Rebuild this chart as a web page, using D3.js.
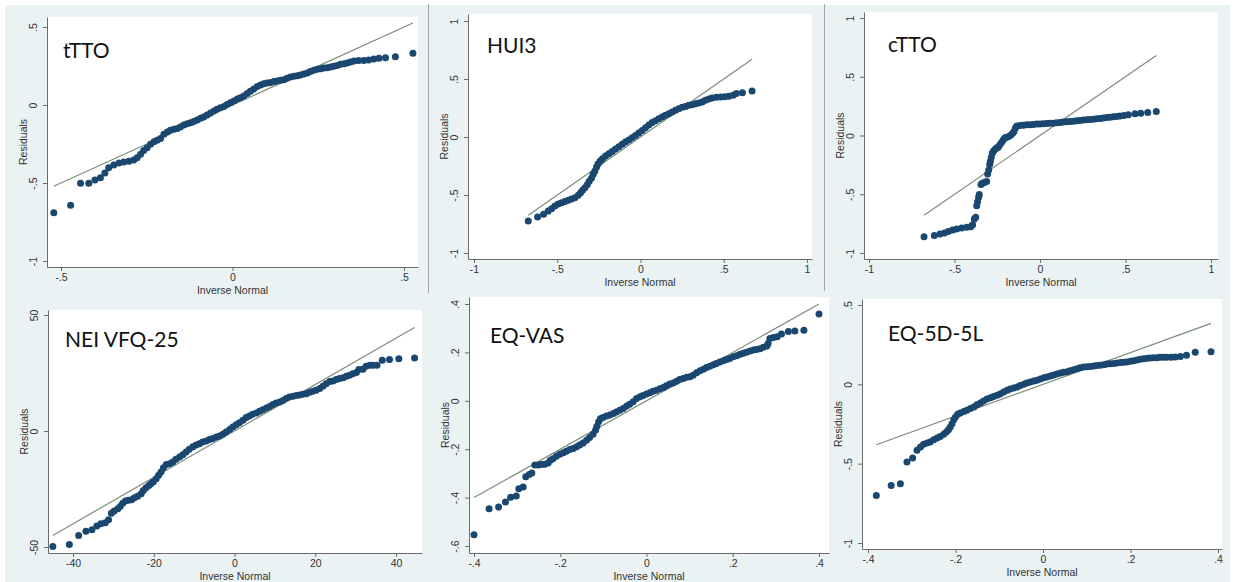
<!DOCTYPE html>
<html>
<head>
<meta charset="utf-8">
<script src="https://cdn.jsdelivr.net/npm/d3@7"></script>
<style>
body { margin: 0; background: #fff; }
</style>
</head>
<body>
<script>
// Q-Q points per instrument: [inverse normal, residual]
var tttoPoints = [[-0.521,-0.690],[-0.472,-0.643],[-0.443,-0.502],[-0.419,-0.502],[-0.401,-0.481],[-0.385,-0.466],
    [-0.372,-0.436],[-0.361,-0.402],[-0.346,-0.385],[-0.331,-0.372],[-0.317,-0.365],[-0.302,-0.361],[-0.288,-0.353],[-0.278,-0.338],
    [-0.268,-0.316],[-0.259,-0.291],[-0.249,-0.274],[-0.239,-0.252],[-0.229,-0.235],[-0.220,-0.226],[-0.210,-0.214],[-0.200,-0.188],
    [-0.190,-0.173],[-0.181,-0.162],[-0.171,-0.156],[-0.161,-0.150],[-0.152,-0.141],[-0.142,-0.128],[-0.132,-0.120],[-0.122,-0.113],
    [-0.113,-0.105],[-0.103,-0.096],[-0.093,-0.085],[-0.084,-0.077],[-0.074,-0.064],[-0.064,-0.051],[-0.054,-0.038],[-0.045,-0.028],
    [-0.035,-0.017],[-0.025,-0.009],[-0.016,0.004],[-0.006,0.015],[0.004,0.026],[0.014,0.038],[0.023,0.047],[0.033,0.058],
    [0.043,0.073],[0.052,0.088],[0.062,0.103],[0.072,0.118],[0.082,0.128],[0.091,0.137],[0.101,0.141],[0.111,0.145],
    [0.121,0.150],[0.130,0.154],[0.140,0.158],[0.150,0.162],[0.159,0.171],[0.169,0.179],[0.179,0.184],[0.189,0.188],
    [0.198,0.192],[0.208,0.199],[0.218,0.205],[0.227,0.214],[0.237,0.222],[0.247,0.229],[0.257,0.233],[0.266,0.237],
    [0.276,0.239],[0.286,0.244],[0.295,0.248],[0.305,0.254],[0.315,0.261],[0.325,0.265],[0.334,0.269],[0.344,0.276],
    [0.354,0.282],[0.368,0.286],[0.383,0.286],[0.397,0.288],[0.412,0.295],[0.427,0.299],[0.446,0.303],[0.475,0.310],[0.526,0.331]];

var hui3Points = [[-0.674,-0.724],[-0.618,-0.690],[-0.582,-0.667],[-0.554,-0.638],[-0.534,-0.618],[-0.514,-0.595],[-0.494,-0.578],
    [-0.474,-0.566],[-0.454,-0.555],[-0.434,-0.546],[-0.414,-0.534],[-0.394,-0.523],[-0.374,-0.503],[-0.360,-0.480],[-0.348,-0.460],
    [-0.334,-0.437],[-0.320,-0.411],[-0.308,-0.382],[-0.294,-0.353],[-0.284,-0.322],[-0.274,-0.293],[-0.264,-0.259],[-0.254,-0.230],
    [-0.242,-0.207],[-0.228,-0.187],[-0.210,-0.164],[-0.190,-0.144],[-0.170,-0.124],[-0.150,-0.103],[-0.130,-0.083],[-0.110,-0.063],
    [-0.090,-0.043],[-0.070,-0.026],[-0.050,-0.006],[-0.030,0.014],[-0.010,0.034],[0.010,0.055],[0.030,0.080],[0.050,0.103],
    [0.070,0.124],[0.090,0.141],[0.110,0.158],[0.130,0.172],[0.150,0.187],[0.170,0.201],[0.190,0.216],[0.210,0.230],
    [0.230,0.244],[0.250,0.256],[0.270,0.264],[0.290,0.273],[0.310,0.279],[0.330,0.287],[0.350,0.293],[0.370,0.302],
    [0.390,0.316],[0.410,0.328],[0.430,0.336],[0.456,0.342],[0.482,0.345],[0.506,0.348],[0.530,0.351],[0.556,0.359],
    [0.576,0.374],[0.612,0.382],[0.670,0.397]];

var cttoPoints = [[-0.678,-0.861],[-0.618,-0.852],[-0.585,-0.838],[-0.559,-0.830],[-0.536,-0.818],[-0.511,-0.804],[-0.487,-0.795],
    [-0.458,-0.787],[-0.429,-0.781],[-0.405,-0.776],[-0.394,-0.759],[-0.384,-0.710],[-0.376,-0.696],[-0.370,-0.597],[-0.365,-0.563],
    [-0.359,-0.526],[-0.355,-0.503],[-0.345,-0.418],[-0.337,-0.406],[-0.326,-0.401],[-0.312,-0.392],[-0.306,-0.327],[-0.300,-0.293],
    [-0.294,-0.247],[-0.290,-0.219],[-0.285,-0.185],[-0.279,-0.151],[-0.273,-0.134],[-0.263,-0.119],[-0.253,-0.105],[-0.244,-0.099],
    [-0.234,-0.077],[-0.224,-0.057],[-0.214,-0.037],[-0.205,-0.020],[-0.195,-0.014],[-0.183,-0.009],[-0.172,0.003],[-0.160,0.020],
    [-0.152,0.034],[-0.144,0.063],[-0.136,0.080],[-0.117,0.085],[-0.097,0.088],[-0.078,0.091],[-0.058,0.091],[-0.039,0.094],
    [-0.019,0.097],[0.000,0.097],[0.019,0.099],[0.039,0.102],[0.058,0.105],[0.078,0.105],[0.097,0.108],[0.117,0.111],
    [0.136,0.114],[0.156,0.116],[0.175,0.119],[0.195,0.122],[0.214,0.125],[0.234,0.128],[0.253,0.131],[0.273,0.134],
    [0.292,0.136],[0.312,0.139],[0.331,0.142],[0.351,0.145],[0.370,0.148],[0.390,0.153],[0.409,0.156],[0.429,0.159],
    [0.448,0.162],[0.468,0.165],[0.491,0.170],[0.517,0.176],[0.556,0.185],[0.589,0.190],[0.630,0.196],[0.680,0.205]];

var neiPoints = [[-45.0,-49.8],[-40.9,-48.9],[-38.6,-45.0],[-36.8,-43.2],[-35.3,-42.6],[-34.1,-41.0],[-33.1,-40.0],[-32.0,-39.6],
    [-31.2,-38.3],[-30.5,-35.4],[-29.8,-34.5],[-28.9,-33.5],[-28.3,-32.5],[-27.7,-31.1],[-27.0,-30.2],[-26.3,-29.9],[-25.5,-29.6],
    [-24.8,-28.8],[-24.0,-28.1],[-23.1,-27.1],[-22.6,-25.6],[-21.9,-24.5],[-21.2,-23.5],[-20.7,-22.7],[-20.1,-21.9],[-19.4,-20.6],
    [-18.8,-19.1],[-18.2,-17.7],[-17.6,-15.8],[-16.9,-14.4],[-16.1,-14.1],[-15.3,-13.4],[-14.5,-12.2],[-13.6,-11.2],[-12.8,-10.2],
    [-12.0,-9.1],[-11.2,-7.9],[-10.3,-6.8],[-9.5,-6.0],[-8.7,-5.5],[-7.9,-4.7],[-7.0,-4.3],[-6.2,-3.7],[-5.4,-3.2],[-4.5,-2.6],
    [-3.7,-2.2],[-2.9,-1.4],[-2.1,-0.4],[-1.2,0.7],[-0.4,1.7],[0.4,2.7],[1.2,3.6],[2.1,4.6],[2.9,5.8],[3.7,6.5],[4.5,7.2],
    [5.4,7.8],[6.2,8.5],[7.0,9.2],[7.9,9.9],[8.7,10.6],[9.5,11.4],[10.3,12.1],[11.2,12.5],[12.0,13.2],[12.8,14.0],[13.6,14.7],
    [14.5,15.0],[15.3,15.3],[16.1,15.5],[16.9,15.8],[17.8,16.1],[18.6,16.7],[19.4,17.1],[20.2,17.6],[21.1,18.3],[21.9,19.3],
    [22.7,20.4],[23.6,21.3],[24.4,21.6],[25.2,22.2],[26.0,22.6],[26.9,23.0],[27.7,23.6],[28.5,24.0],[29.3,24.7],[30.2,25.2],
    [30.8,26.5],[31.8,26.6],[32.6,27.9],[33.5,28.3],[34.3,28.3],[35.3,28.3],[36.6,30.5],[38.4,30.8],[40.7,31.1],[44.6,31.5]];

var eqvasPoints = [[-0.400,-0.553],[-0.365,-0.446],[-0.343,-0.439],[-0.327,-0.418],[-0.315,-0.399],[-0.302,-0.393],[-0.296,-0.363],
    [-0.286,-0.356],[-0.280,-0.314],[-0.272,-0.305],[-0.266,-0.298],[-0.259,-0.265],[-0.251,-0.265],[-0.244,-0.263],[-0.236,-0.262],
    [-0.228,-0.257],[-0.223,-0.246],[-0.217,-0.239],[-0.209,-0.229],[-0.201,-0.221],[-0.193,-0.215],[-0.186,-0.208],[-0.178,-0.201],
    [-0.170,-0.197],[-0.162,-0.190],[-0.155,-0.183],[-0.147,-0.174],[-0.139,-0.163],[-0.132,-0.152],[-0.124,-0.138],[-0.118,-0.121],
    [-0.115,-0.105],[-0.111,-0.087],[-0.107,-0.074],[-0.101,-0.069],[-0.093,-0.063],[-0.085,-0.059],[-0.077,-0.052],[-0.070,-0.046],
    [-0.062,-0.039],[-0.054,-0.032],[-0.046,-0.022],[-0.039,-0.014],[-0.031,-0.004],[-0.023,0.010],[-0.015,0.017],[-0.008,0.022],
    [0.000,0.028],[0.008,0.033],[0.015,0.039],[0.023,0.044],[0.031,0.050],[0.039,0.055],[0.046,0.062],[0.054,0.069],
    [0.062,0.074],[0.070,0.081],[0.077,0.088],[0.085,0.092],[0.093,0.097],[0.101,0.099],[0.108,0.106],[0.116,0.116],
    [0.124,0.124],[0.132,0.130],[0.139,0.138],[0.147,0.143],[0.155,0.149],[0.162,0.154],[0.170,0.160],[0.178,0.166],
    [0.186,0.171],[0.193,0.175],[0.201,0.182],[0.209,0.186],[0.217,0.192],[0.224,0.196],[0.232,0.201],[0.240,0.206],
    [0.248,0.210],[0.255,0.212],[0.263,0.215],[0.271,0.221],[0.279,0.226],[0.282,0.237],[0.286,0.257],[0.294,0.262],
    [0.303,0.265],[0.313,0.276],[0.329,0.286],[0.344,0.288],[0.365,0.292],[0.400,0.359]];

var eq5dPoints = [[-0.381,-0.700],[-0.347,-0.637],[-0.326,-0.626],[-0.311,-0.489],[-0.298,-0.464],[-0.288,-0.416],[-0.280,-0.395],
    [-0.273,-0.378],[-0.265,-0.370],[-0.258,-0.363],[-0.250,-0.349],[-0.242,-0.338],[-0.235,-0.328],[-0.227,-0.315],[-0.221,-0.300],
    [-0.216,-0.286],[-0.212,-0.269],[-0.208,-0.248],[-0.204,-0.223],[-0.200,-0.206],[-0.195,-0.189],[-0.189,-0.181],[-0.181,-0.172],
    [-0.174,-0.164],[-0.166,-0.153],[-0.158,-0.143],[-0.151,-0.128],[-0.143,-0.118],[-0.136,-0.105],[-0.128,-0.092],[-0.120,-0.084],
    [-0.113,-0.076],[-0.105,-0.069],[-0.098,-0.061],[-0.090,-0.048],[-0.082,-0.038],[-0.075,-0.029],[-0.067,-0.023],[-0.059,-0.017],
    [-0.052,-0.008],[-0.044,0.000],[-0.037,0.008],[-0.029,0.015],[-0.021,0.021],[-0.014,0.025],[-0.006,0.034],[0.002,0.042],
    [0.009,0.046],[0.017,0.053],[0.024,0.059],[0.032,0.065],[0.040,0.071],[0.047,0.076],[0.055,0.080],[0.062,0.086],
    [0.070,0.092],[0.078,0.099],[0.085,0.105],[0.093,0.109],[0.101,0.111],[0.108,0.113],[0.116,0.116],[0.123,0.118],
    [0.131,0.120],[0.139,0.124],[0.146,0.128],[0.154,0.130],[0.162,0.132],[0.169,0.134],[0.177,0.137],[0.184,0.139],
    [0.192,0.141],[0.200,0.145],[0.207,0.149],[0.215,0.153],[0.222,0.158],[0.230,0.162],[0.238,0.164],[0.245,0.166],
    [0.253,0.168],[0.261,0.168],[0.268,0.170],[0.276,0.170],[0.283,0.170],[0.293,0.170],[0.302,0.172],[0.314,0.176],
    [0.328,0.183],[0.348,0.202],[0.384,0.206]];

// tick values
var ticksHalf = [-0.5, 0, 0.5];
var ticksOne = [-1, -0.5, 0, 0.5, 1];
var ticksResid = [-1, -0.5, 0, 0.5];
var ticksForty = [-40, -20, 0, 20, 40];
var ticksFifty = [-50, 0, 50];
var ticksPoint4 = [-0.4, -0.2, 0, 0.2, 0.4];
var ticksVas = [-0.6, -0.4, -0.2, 0, 0.2, 0.4];

var width = 1235;
var height = 582;
var dotColor = "#1a476f";
var lineColor = "#7a8e78";
var axisColor = "#6b6b6b";
var axisFont = "'Liberation Sans', Arial, sans-serif";

var svg = d3.select("body").append("svg")
    .attr("width", width)
    .attr("height", height);

// graph region background
svg.append("rect")
    .attr("x", 5).attr("y", 5)
    .attr("width", 1225).attr("height", 577)
    .attr("fill", "#eaf2f3");

// screenshot separators
svg.append("line").attr("x1", 428.5).attr("x2", 428.5).attr("y1", 4).attr("y2", 293)
    .attr("stroke", "#a3a9ab").attr("stroke-width", 1);
svg.append("line").attr("x1", 824.5).attr("x2", 824.5).attr("y1", 4).attr("y2", 291)
    .attr("stroke", "#a3a9ab").attr("stroke-width", 1);

// layout of each pasted graph (pixels)
var panels = [
    {title: "tTTO", pts: tttoPoints, xt: ticksHalf, yt: ticksResid,
     xd: [-0.5, 0.5], xp: [61, 404], yd: [-1, 0.5], yp: [261, 27],
     left: 47, right: 418, top: 17, bottom: 267, tx: 63, ty: 58},
    {title: "HUI3", pts: hui3Points, xt: ticksOne, yt: ticksOne,
     xd: [-1, 1], xp: [474, 807], yd: [-1, 1], yp: [253, 21],
     left: 468, right: 812, top: 14, bottom: 259, tx: 487, ty: 53},
    {title: "cTTO", pts: cttoPoints, xt: ticksOne, yt: ticksOne,
     xd: [-1, 1], xp: [869, 1211], yd: [-1, 1], yp: [253, 18],
     left: 864, right: 1218, top: 12, bottom: 259, tx: 888, ty: 52},
    {title: "NEI VFQ-25", pts: neiPoints, xt: ticksForty, yt: ticksFifty,
     xd: [-40, 40], xp: [73, 396], yd: [-50, 50], yp: [547, 315],
     left: 48, right: 422, top: 310, bottom: 553, tx: 65, ty: 347},
    {title: "EQ-VAS", pts: eqvasPoints, xt: ticksPoint4, yt: ticksVas,
     xd: [-0.4, 0.4], xp: [474, 819], yd: [-0.6, 0.4], yp: [546, 304],
     left: 469, right: 829, top: 297, bottom: 553, tx: 490, ty: 343},
    {title: "EQ-5D-5L", pts: eq5dPoints, xt: ticksPoint4, yt: ticksResid,
     xd: [-0.4, 0.4], xp: [868, 1218], yd: [-1, 0.5], yp: [543, 305],
     left: 862, right: 1222, top: 299, bottom: 549, tx: 888, ty: 341}
];

function fmt(d) {
    return String(d).replace("0.", ".");
}

panels.forEach(function(p) {
    var g = svg.append("g");

    // scales from tick positions, stretched to the plot region
    var xs = d3.scaleLinear().domain(p.xd).range(p.xp);
    var ys = d3.scaleLinear().domain(p.yd).range(p.yp);
    var x = d3.scaleLinear().domain([xs.invert(p.left), xs.invert(p.right)]).range([p.left, p.right]);
    var y = d3.scaleLinear().domain([ys.invert(p.bottom), ys.invert(p.top)]).range([p.bottom, p.top]);

    g.append("rect")
        .attr("x", p.left).attr("y", p.top)
        .attr("width", p.right - p.left).attr("height", p.bottom - p.top)
        .attr("fill", "white");

    var xAxis = g.append("g")
        .attr("transform", "translate(0," + p.bottom + ")")
        .call(d3.axisBottom(x).tickValues(p.xt).tickSize(4).tickSizeOuter(0).tickPadding(2.5).tickFormat(fmt));

    var yAxis = g.append("g")
        .attr("transform", "translate(" + p.left + ",0)")
        .call(d3.axisLeft(y).tickValues(p.yt).tickSize(4).tickSizeOuter(0).tickFormat(fmt));

    yAxis.selectAll(".tick text")
        .attr("x", 0)
        .attr("y", -10)
        .attr("dy", 0)
        .attr("text-anchor", "middle")
        .attr("transform", "rotate(-90)");

    [xAxis, yAxis].forEach(function(a) {
        a.attr("font-family", axisFont).attr("font-size", "10.5px");
        a.select(".domain").attr("stroke", axisColor);
        a.selectAll(".tick line").attr("stroke", axisColor);
        a.selectAll(".tick text").attr("fill", "#333");
    });

    g.append("text")
        .text("Inverse Normal")
        .attr("x", (p.left + p.right) / 2)
        .attr("y", p.bottom + 27)
        .attr("text-anchor", "middle")
        .attr("font-family", axisFont)
        .attr("font-size", "10.5px")
        .attr("fill", "#333");

    g.append("text")
        .text("Residuals")
        .attr("transform", "translate(" + (p.left - 20) + "," + ((p.top + p.bottom) / 2) + ") rotate(-90)")
        .attr("text-anchor", "middle")
        .attr("font-family", axisFont)
        .attr("font-size", "10.5px")
        .attr("fill", "#333");

    // reference line y = x over the data range
    var ext = d3.extent(p.pts, function(d) { return d[0]; });
    g.append("line")
        .attr("x1", x(ext[0])).attr("y1", y(ext[0]))
        .attr("x2", x(ext[1])).attr("y2", y(ext[1]))
        .attr("stroke", lineColor)
        .attr("stroke-width", 1.2);

    g.selectAll("circle")
        .data(p.pts)
        .enter()
        .append("circle")
        .attr("cx", function(d) { return x(d[0]); })
        .attr("cy", function(d) { return y(d[1]); })
        .attr("r", 3.5)
        .attr("fill", dotColor);

    g.append("text")
        .text(p.title)
        .attr("x", p.tx)
        .attr("y", p.ty)
        .attr("font-family", "Lato, sans-serif")
        .attr("font-size", "21px")
        .attr("fill", "#111");
});
</script>
</body>
</html>
